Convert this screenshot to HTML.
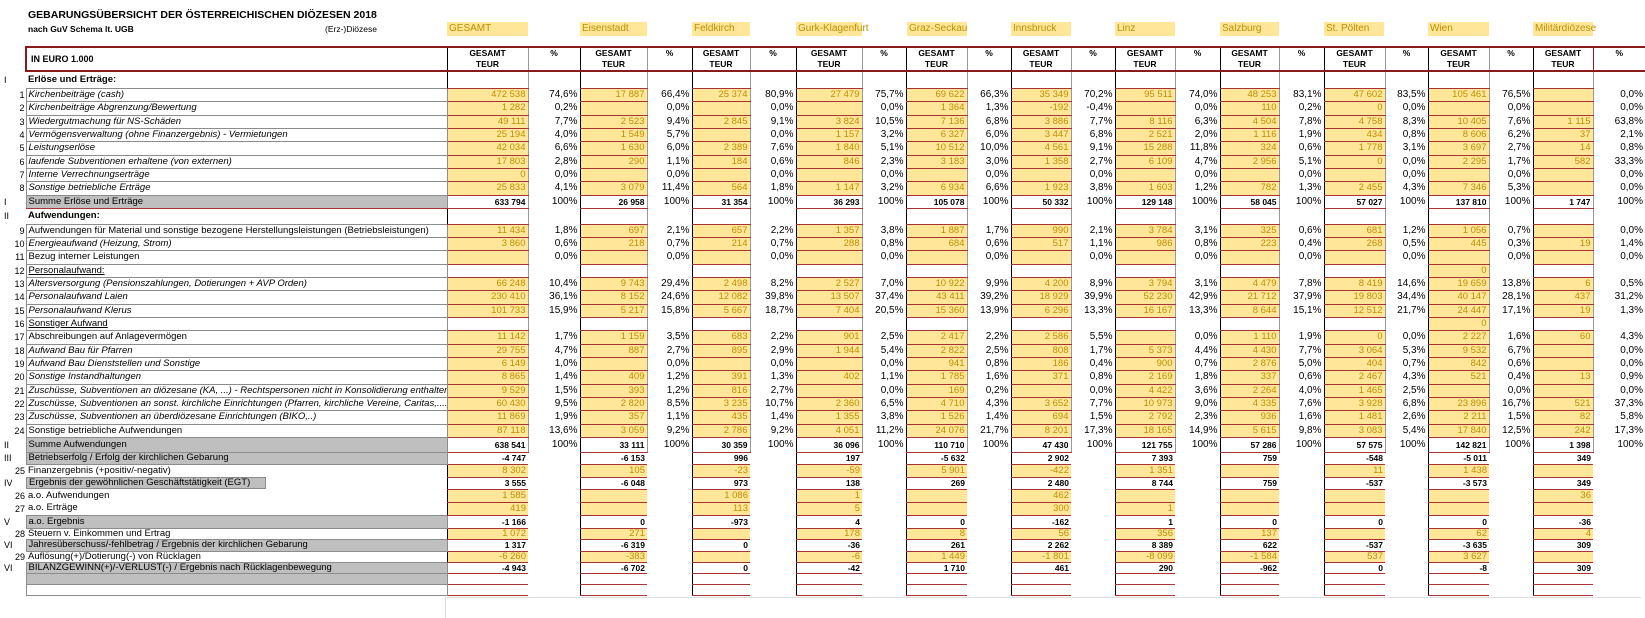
<!DOCTYPE html>
<html><head><meta charset="utf-8">
<style>
body{margin:0;width:1645px;height:615px;position:relative;background:#fff;font-family:"Liberation Sans",sans-serif;overflow:hidden;color:#000}
.t{position:absolute;white-space:nowrap}
.dl{position:absolute;top:22px;height:14px;line-height:14px;background:#FFE699;color:#BF8F00;font-size:10px;padding-left:2px;box-sizing:border-box;white-space:nowrap;overflow:visible}
table{position:absolute;left:0;top:46px;border-collapse:collapse;table-layout:fixed;width:1645px}
td{padding:0 2px;font-size:9.5px;white-space:nowrap;overflow:hidden;line-height:10px}
td.rn{padding-left:4px;font-size:9px}
td.n{text-align:right;font-size:9px;padding-right:1px}
td.l{border:1px solid #8c8c8c;font-size:9.5px}
td.i{font-style:italic}
td.b{font-weight:bold;border:none}
td.u{text-decoration:underline}
td.g{background:#BFBFBF}
td.v{background:#FFE699;color:#BF8F00;text-align:right;border-left:1px solid #000;border-bottom:1px solid #A93232;border-top:1px solid #A93232}
td.w{background:#fff;border-left:1px solid #000;border-bottom:1px solid #A93232}
td.s{background:#fff;text-align:right;font-weight:bold;font-size:8.5px;border-left:1px solid #000;border-bottom:1px solid #A93232;border-top:1px solid #A93232}
td.p{text-align:right;font-size:10px;border-left:1px solid #999}
td.x{border-left:1px solid #999}
tr.h td{border-top:2px solid #8B1A1A;border-bottom:2px solid #8B1A1A;font-weight:bold;font-size:8.5px;text-align:center;line-height:11px}
tr.h td.hl{text-align:left;border-left:2px solid #8B1A1A;font-size:9px;padding-left:4px}
tr.h td.hv{border-left:1px solid #000}
tr.h td.hp{border-left:1px solid #999;vertical-align:top}
tr.h td.e{border:none}
</style></head><body>
<div class="t" style="left:28px;top:9px;font-size:10.5px;font-weight:bold">GEBARUNGSÜBERSICHT DER ÖSTERREICHISCHEN DIÖZESEN 2018</div>
<div class="t" style="left:28px;top:24px;font-size:8.5px;font-weight:bold">nach GuV Schema lt. UGB</div>
<div class="t" style="left:325px;top:24px;font-size:8.5px">(Erz-)Diözese</div>
<div class="dl" style="left:447px;width:81px">GESAMT</div>
<div class="dl" style="left:580px;width:67px">Eisenstadt</div>
<div class="dl" style="left:692px;width:58px">Feldkirch</div>
<div class="dl" style="left:796px;width:66px">Gurk-Klagenfurt</div>
<div class="dl" style="left:907px;width:60px">Graz-Seckau</div>
<div class="dl" style="left:1011px;width:60px">Innsbruck</div>
<div class="dl" style="left:1115px;width:60px">Linz</div>
<div class="dl" style="left:1220px;width:59px">Salzburg</div>
<div class="dl" style="left:1324px;width:60px">St. Pölten</div>
<div class="dl" style="left:1428px;width:61px">Wien</div>
<div class="dl" style="left:1533px;width:60px">Militärdiözese</div>
<div style="position:absolute;left:445px;top:597px;width:1195px;height:20px;border-left:1px solid #ddd;border-top:1px solid #ddd"></div>
<table>
<colgroup><col style="width:12px"><col style="width:14px"><col style="width:421px">
<col style="width:81px"><col style="width:52px"><col style="width:67px"><col style="width:45px"><col style="width:58px"><col style="width:46px"><col style="width:66px"><col style="width:44px"><col style="width:61px"><col style="width:44px"><col style="width:60px"><col style="width:44px"><col style="width:60px"><col style="width:45px"><col style="width:59px"><col style="width:45px"><col style="width:61px"><col style="width:43px"><col style="width:61px"><col style="width:44px"><col style="width:60px"><col style="width:52px"></colgroup>
<tr class="h" style="height:24px"><td class="e"></td><td class="e"></td><td class="hl">IN EURO 1.000</td>
<td class="hv">GESAMT<br>TEUR</td><td class="hp">%</td><td class="hv">GESAMT<br>TEUR</td><td class="hp">%</td><td class="hv">GESAMT<br>TEUR</td><td class="hp">%</td><td class="hv">GESAMT<br>TEUR</td><td class="hp">%</td><td class="hv">GESAMT<br>TEUR</td><td class="hp">%</td><td class="hv">GESAMT<br>TEUR</td><td class="hp">%</td><td class="hv">GESAMT<br>TEUR</td><td class="hp">%</td><td class="hv">GESAMT<br>TEUR</td><td class="hp">%</td><td class="hv">GESAMT<br>TEUR</td><td class="hp">%</td><td class="hv">GESAMT<br>TEUR</td><td class="hp">%</td><td class="hv" style="border-right:1px solid #8B1A1A">GESAMT<br>TEUR</td><td class="hp">%</td></tr>
<tr style="height:17px"><td class="rn">I</td><td></td><td class="b">Erlöse und Erträge:</td><td class="w"></td><td class="x"></td><td class="w"></td><td class="x"></td><td class="w"></td><td class="x"></td><td class="w"></td><td class="x"></td><td class="w"></td><td class="x"></td><td class="w"></td><td class="x"></td><td class="w"></td><td class="x"></td><td class="w"></td><td class="x"></td><td class="w"></td><td class="x"></td><td class="w"></td><td class="x"></td><td class="w"></td><td class="x"></td></tr>
<tr style="height:13px"><td></td><td class="n">1</td><td class="l i">Kirchenbeiträge (cash)</td><td class="v">472 538</td><td class="p">74,6%</td><td class="v">17 887</td><td class="p">66,4%</td><td class="v">25 374</td><td class="p">80,9%</td><td class="v">27 479</td><td class="p">75,7%</td><td class="v">69 622</td><td class="p">66,3%</td><td class="v">35 349</td><td class="p">70,2%</td><td class="v">95 511</td><td class="p">74,0%</td><td class="v">48 253</td><td class="p">83,1%</td><td class="v">47 602</td><td class="p">83,5%</td><td class="v">105 461</td><td class="p">76,5%</td><td class="v"></td><td class="p">0,0%</td></tr>
<tr style="height:14px"><td></td><td class="n">2</td><td class="l i">Kirchenbeiträge Abgrenzung/Bewertung</td><td class="v">1 282</td><td class="p">0,2%</td><td class="v"></td><td class="p">0,0%</td><td class="v"></td><td class="p">0,0%</td><td class="v"></td><td class="p">0,0%</td><td class="v">1 364</td><td class="p">1,3%</td><td class="v">-192</td><td class="p">-0,4%</td><td class="v"></td><td class="p">0,0%</td><td class="v">110</td><td class="p">0,2%</td><td class="v">0</td><td class="p">0,0%</td><td class="v"></td><td class="p">0,0%</td><td class="v"></td><td class="p">0,0%</td></tr>
<tr style="height:13px"><td></td><td class="n">3</td><td class="l i">Wiedergutmachung für NS-Schäden</td><td class="v">49 111</td><td class="p">7,7%</td><td class="v">2 523</td><td class="p">9,4%</td><td class="v">2 845</td><td class="p">9,1%</td><td class="v">3 824</td><td class="p">10,5%</td><td class="v">7 136</td><td class="p">6,8%</td><td class="v">3 886</td><td class="p">7,7%</td><td class="v">8 116</td><td class="p">6,3%</td><td class="v">4 504</td><td class="p">7,8%</td><td class="v">4 758</td><td class="p">8,3%</td><td class="v">10 405</td><td class="p">7,6%</td><td class="v">1 115</td><td class="p">63,8%</td></tr>
<tr style="height:13px"><td></td><td class="n">4</td><td class="l i">Vermögensverwaltung (ohne Finanzergebnis) - Vermietungen</td><td class="v">25 194</td><td class="p">4,0%</td><td class="v">1 549</td><td class="p">5,7%</td><td class="v"></td><td class="p">0,0%</td><td class="v">1 157</td><td class="p">3,2%</td><td class="v">6 327</td><td class="p">6,0%</td><td class="v">3 447</td><td class="p">6,8%</td><td class="v">2 521</td><td class="p">2,0%</td><td class="v">1 116</td><td class="p">1,9%</td><td class="v">434</td><td class="p">0,8%</td><td class="v">8 606</td><td class="p">6,2%</td><td class="v">37</td><td class="p">2,1%</td></tr>
<tr style="height:14px"><td></td><td class="n">5</td><td class="l i">Leistungserlöse</td><td class="v">42 034</td><td class="p">6,6%</td><td class="v">1 630</td><td class="p">6,0%</td><td class="v">2 389</td><td class="p">7,6%</td><td class="v">1 840</td><td class="p">5,1%</td><td class="v">10 512</td><td class="p">10,0%</td><td class="v">4 561</td><td class="p">9,1%</td><td class="v">15 288</td><td class="p">11,8%</td><td class="v">324</td><td class="p">0,6%</td><td class="v">1 778</td><td class="p">3,1%</td><td class="v">3 697</td><td class="p">2,7%</td><td class="v">14</td><td class="p">0,8%</td></tr>
<tr style="height:13px"><td></td><td class="n">6</td><td class="l i">laufende Subventionen erhaltene (von externen)</td><td class="v">17 803</td><td class="p">2,8%</td><td class="v">290</td><td class="p">1,1%</td><td class="v">184</td><td class="p">0,6%</td><td class="v">846</td><td class="p">2,3%</td><td class="v">3 183</td><td class="p">3,0%</td><td class="v">1 358</td><td class="p">2,7%</td><td class="v">6 109</td><td class="p">4,7%</td><td class="v">2 956</td><td class="p">5,1%</td><td class="v">0</td><td class="p">0,0%</td><td class="v">2 295</td><td class="p">1,7%</td><td class="v">582</td><td class="p">33,3%</td></tr>
<tr style="height:13px"><td></td><td class="n">7</td><td class="l i">Interne Verrechnungserträge</td><td class="v">0</td><td class="p">0,0%</td><td class="v"></td><td class="p">0,0%</td><td class="v"></td><td class="p">0,0%</td><td class="v"></td><td class="p">0,0%</td><td class="v"></td><td class="p">0,0%</td><td class="v"></td><td class="p">0,0%</td><td class="v"></td><td class="p">0,0%</td><td class="v"></td><td class="p">0,0%</td><td class="v"></td><td class="p">0,0%</td><td class="v"></td><td class="p">0,0%</td><td class="v"></td><td class="p">0,0%</td></tr>
<tr style="height:14px"><td></td><td class="n">8</td><td class="l i">Sonstige betriebliche Erträge</td><td class="v">25 833</td><td class="p">4,1%</td><td class="v">3 079</td><td class="p">11,4%</td><td class="v">564</td><td class="p">1,8%</td><td class="v">1 147</td><td class="p">3,2%</td><td class="v">6 934</td><td class="p">6,6%</td><td class="v">1 923</td><td class="p">3,8%</td><td class="v">1 603</td><td class="p">1,2%</td><td class="v">782</td><td class="p">1,3%</td><td class="v">2 455</td><td class="p">4,3%</td><td class="v">7 346</td><td class="p">5,3%</td><td class="v"></td><td class="p">0,0%</td></tr>
<tr style="height:13px"><td class="rn">I</td><td></td><td class="l g" style="border-bottom:1px solid #A93232">Summe Erlöse und Erträge</td><td class="s">633 794</td><td class="p">100%</td><td class="s">26 958</td><td class="p">100%</td><td class="s">31 354</td><td class="p">100%</td><td class="s">36 293</td><td class="p">100%</td><td class="s">105 078</td><td class="p">100%</td><td class="s">50 332</td><td class="p">100%</td><td class="s">129 148</td><td class="p">100%</td><td class="s">58 045</td><td class="p">100%</td><td class="s">57 027</td><td class="p">100%</td><td class="s">137 810</td><td class="p">100%</td><td class="s">1 747</td><td class="p">100%</td></tr>
<tr style="height:16px"><td class="rn">II</td><td></td><td class="b">Aufwendungen:</td><td class="w"></td><td class="x"></td><td class="w"></td><td class="x"></td><td class="w"></td><td class="x"></td><td class="w"></td><td class="x"></td><td class="w"></td><td class="x"></td><td class="w"></td><td class="x"></td><td class="w"></td><td class="x"></td><td class="w"></td><td class="x"></td><td class="w"></td><td class="x"></td><td class="w"></td><td class="x"></td><td class="w"></td><td class="x"></td></tr>
<tr style="height:13px"><td></td><td class="n">9</td><td class="l">Aufwendungen für Material und sonstige bezogene Herstellungsleistungen (Betriebsleistungen)</td><td class="v">11 434</td><td class="p">1,8%</td><td class="v">697</td><td class="p">2,1%</td><td class="v">657</td><td class="p">2,2%</td><td class="v">1 357</td><td class="p">3,8%</td><td class="v">1 887</td><td class="p">1,7%</td><td class="v">990</td><td class="p">2,1%</td><td class="v">3 784</td><td class="p">3,1%</td><td class="v">325</td><td class="p">0,6%</td><td class="v">681</td><td class="p">1,2%</td><td class="v">1 056</td><td class="p">0,7%</td><td class="v"></td><td class="p">0,0%</td></tr>
<tr style="height:13px"><td></td><td class="n">10</td><td class="l i">Energieaufwand (Heizung, Strom)</td><td class="v">3 860</td><td class="p">0,6%</td><td class="v">218</td><td class="p">0,7%</td><td class="v">214</td><td class="p">0,7%</td><td class="v">288</td><td class="p">0,8%</td><td class="v">684</td><td class="p">0,6%</td><td class="v">517</td><td class="p">1,1%</td><td class="v">986</td><td class="p">0,8%</td><td class="v">223</td><td class="p">0,4%</td><td class="v">268</td><td class="p">0,5%</td><td class="v">445</td><td class="p">0,3%</td><td class="v">19</td><td class="p">1,4%</td></tr>
<tr style="height:14px"><td></td><td class="n">11</td><td class="l">Bezug interner Leistungen</td><td class="v"></td><td class="p">0,0%</td><td class="v"></td><td class="p">0,0%</td><td class="v"></td><td class="p">0,0%</td><td class="v"></td><td class="p">0,0%</td><td class="v"></td><td class="p">0,0%</td><td class="v"></td><td class="p">0,0%</td><td class="v"></td><td class="p">0,0%</td><td class="v"></td><td class="p">0,0%</td><td class="v"></td><td class="p">0,0%</td><td class="v"></td><td class="p">0,0%</td><td class="v"></td><td class="p">0,0%</td></tr>
<tr style="height:13px"><td></td><td class="n">12</td><td class="l u">Personalaufwand:</td><td class="w"></td><td class="x"></td><td class="w"></td><td class="x"></td><td class="w"></td><td class="x"></td><td class="w"></td><td class="x"></td><td class="w"></td><td class="x"></td><td class="w"></td><td class="x"></td><td class="w"></td><td class="x"></td><td class="w"></td><td class="x"></td><td class="w"></td><td class="x"></td><td class="v">0</td><td class="x"></td><td class="w"></td><td class="x"></td></tr>
<tr style="height:13px"><td></td><td class="n">13</td><td class="l i">Altersversorgung (Pensionszahlungen, Dotierungen + AVP Orden)</td><td class="v">66 248</td><td class="p">10,4%</td><td class="v">9 743</td><td class="p">29,4%</td><td class="v">2 498</td><td class="p">8,2%</td><td class="v">2 527</td><td class="p">7,0%</td><td class="v">10 922</td><td class="p">9,9%</td><td class="v">4 200</td><td class="p">8,9%</td><td class="v">3 794</td><td class="p">3,1%</td><td class="v">4 479</td><td class="p">7,8%</td><td class="v">8 419</td><td class="p">14,6%</td><td class="v">19 659</td><td class="p">13,8%</td><td class="v">6</td><td class="p">0,5%</td></tr>
<tr style="height:14px"><td></td><td class="n">14</td><td class="l i">Personalaufwand Laien</td><td class="v">230 410</td><td class="p">36,1%</td><td class="v">8 152</td><td class="p">24,6%</td><td class="v">12 082</td><td class="p">39,8%</td><td class="v">13 507</td><td class="p">37,4%</td><td class="v">43 411</td><td class="p">39,2%</td><td class="v">18 929</td><td class="p">39,9%</td><td class="v">52 230</td><td class="p">42,9%</td><td class="v">21 712</td><td class="p">37,9%</td><td class="v">19 803</td><td class="p">34,4%</td><td class="v">40 147</td><td class="p">28,1%</td><td class="v">437</td><td class="p">31,2%</td></tr>
<tr style="height:13px"><td></td><td class="n">15</td><td class="l i">Personalaufwand Klerus</td><td class="v">101 733</td><td class="p">15,9%</td><td class="v">5 217</td><td class="p">15,8%</td><td class="v">5 667</td><td class="p">18,7%</td><td class="v">7 404</td><td class="p">20,5%</td><td class="v">15 360</td><td class="p">13,9%</td><td class="v">6 296</td><td class="p">13,3%</td><td class="v">16 167</td><td class="p">13,3%</td><td class="v">8 644</td><td class="p">15,1%</td><td class="v">12 512</td><td class="p">21,7%</td><td class="v">24 447</td><td class="p">17,1%</td><td class="v">19</td><td class="p">1,3%</td></tr>
<tr style="height:13px"><td></td><td class="n">16</td><td class="l u">Sonstiger Aufwand</td><td class="w"></td><td class="x"></td><td class="w"></td><td class="x"></td><td class="w"></td><td class="x"></td><td class="w"></td><td class="x"></td><td class="w"></td><td class="x"></td><td class="w"></td><td class="x"></td><td class="w"></td><td class="x"></td><td class="w"></td><td class="x"></td><td class="w"></td><td class="x"></td><td class="v">0</td><td class="x"></td><td class="w"></td><td class="x"></td></tr>
<tr style="height:14px"><td></td><td class="n">17</td><td class="l">Abschreibungen auf Anlagevermögen</td><td class="v">11 142</td><td class="p">1,7%</td><td class="v">1 159</td><td class="p">3,5%</td><td class="v">683</td><td class="p">2,2%</td><td class="v">901</td><td class="p">2,5%</td><td class="v">2 417</td><td class="p">2,2%</td><td class="v">2 586</td><td class="p">5,5%</td><td class="v"></td><td class="p">0,0%</td><td class="v">1 110</td><td class="p">1,9%</td><td class="v">0</td><td class="p">0,0%</td><td class="v">2 227</td><td class="p">1,6%</td><td class="v">60</td><td class="p">4,3%</td></tr>
<tr style="height:13px"><td></td><td class="n">18</td><td class="l i">Aufwand Bau für Pfarren</td><td class="v">29 755</td><td class="p">4,7%</td><td class="v">887</td><td class="p">2,7%</td><td class="v">895</td><td class="p">2,9%</td><td class="v">1 944</td><td class="p">5,4%</td><td class="v">2 822</td><td class="p">2,5%</td><td class="v">808</td><td class="p">1,7%</td><td class="v">5 373</td><td class="p">4,4%</td><td class="v">4 430</td><td class="p">7,7%</td><td class="v">3 064</td><td class="p">5,3%</td><td class="v">9 532</td><td class="p">6,7%</td><td class="v"></td><td class="p">0,0%</td></tr>
<tr style="height:13px"><td></td><td class="n">19</td><td class="l i">Aufwand Bau Dienststellen und Sonstige</td><td class="v">6 149</td><td class="p">1,0%</td><td class="v"></td><td class="p">0,0%</td><td class="v"></td><td class="p">0,0%</td><td class="v"></td><td class="p">0,0%</td><td class="v">941</td><td class="p">0,8%</td><td class="v">186</td><td class="p">0,4%</td><td class="v">900</td><td class="p">0,7%</td><td class="v">2 876</td><td class="p">5,0%</td><td class="v">404</td><td class="p">0,7%</td><td class="v">842</td><td class="p">0,6%</td><td class="v"></td><td class="p">0,0%</td></tr>
<tr style="height:14px"><td></td><td class="n">20</td><td class="l i">Sonstige Instandhaltungen</td><td class="v">8 865</td><td class="p">1,4%</td><td class="v">409</td><td class="p">1,2%</td><td class="v">391</td><td class="p">1,3%</td><td class="v">402</td><td class="p">1,1%</td><td class="v">1 785</td><td class="p">1,6%</td><td class="v">371</td><td class="p">0,8%</td><td class="v">2 169</td><td class="p">1,8%</td><td class="v">337</td><td class="p">0,6%</td><td class="v">2 467</td><td class="p">4,3%</td><td class="v">521</td><td class="p">0,4%</td><td class="v">13</td><td class="p">0,9%</td></tr>
<tr style="height:13px"><td></td><td class="n">21</td><td class="l i">Zuschüsse, Subventionen an diözesane (KA, ...) - Rechtspersonen nicht in Konsolidierung enthalten</td><td class="v">9 529</td><td class="p">1,5%</td><td class="v">393</td><td class="p">1,2%</td><td class="v">816</td><td class="p">2,7%</td><td class="v"></td><td class="p">0,0%</td><td class="v">169</td><td class="p">0,2%</td><td class="v"></td><td class="p">0,0%</td><td class="v">4 422</td><td class="p">3,6%</td><td class="v">2 264</td><td class="p">4,0%</td><td class="v">1 465</td><td class="p">2,5%</td><td class="v"></td><td class="p">0,0%</td><td class="v"></td><td class="p">0,0%</td></tr>
<tr style="height:13px"><td></td><td class="n">22</td><td class="l i">Zuschüsse, Subventionen an sonst. kirchliche Einrichtungen (Pfarren, kirchliche Vereine, Caritas,....)</td><td class="v">60 430</td><td class="p">9,5%</td><td class="v">2 820</td><td class="p">8,5%</td><td class="v">3 235</td><td class="p">10,7%</td><td class="v">2 360</td><td class="p">6,5%</td><td class="v">4 710</td><td class="p">4,3%</td><td class="v">3 652</td><td class="p">7,7%</td><td class="v">10 973</td><td class="p">9,0%</td><td class="v">4 335</td><td class="p">7,6%</td><td class="v">3 928</td><td class="p">6,8%</td><td class="v">23 896</td><td class="p">16,7%</td><td class="v">521</td><td class="p">37,3%</td></tr>
<tr style="height:14px"><td></td><td class="n">23</td><td class="l i">Zuschüsse, Subventionen an überdiözesane Einrichtungen (BIKO,..)</td><td class="v">11 869</td><td class="p">1,9%</td><td class="v">357</td><td class="p">1,1%</td><td class="v">435</td><td class="p">1,4%</td><td class="v">1 355</td><td class="p">3,8%</td><td class="v">1 526</td><td class="p">1,4%</td><td class="v">694</td><td class="p">1,5%</td><td class="v">2 792</td><td class="p">2,3%</td><td class="v">936</td><td class="p">1,6%</td><td class="v">1 481</td><td class="p">2,6%</td><td class="v">2 211</td><td class="p">1,5%</td><td class="v">82</td><td class="p">5,8%</td></tr>
<tr style="height:13px"><td></td><td class="n">24</td><td class="l">Sonstige betriebliche Aufwendungen</td><td class="v">87 118</td><td class="p">13,6%</td><td class="v">3 059</td><td class="p">9,2%</td><td class="v">2 786</td><td class="p">9,2%</td><td class="v">4 051</td><td class="p">11,2%</td><td class="v">24 076</td><td class="p">21,7%</td><td class="v">8 201</td><td class="p">17,3%</td><td class="v">18 165</td><td class="p">14,9%</td><td class="v">5 615</td><td class="p">9,8%</td><td class="v">3 083</td><td class="p">5,4%</td><td class="v">17 840</td><td class="p">12,5%</td><td class="v">242</td><td class="p">17,3%</td></tr>
<tr style="height:15px"><td class="rn">II</td><td></td><td class="l g">Summe Aufwendungen</td><td class="s">638 541</td><td class="p">100%</td><td class="s">33 111</td><td class="p">100%</td><td class="s">30 359</td><td class="p">100%</td><td class="s">36 096</td><td class="p">100%</td><td class="s">110 710</td><td class="p">100%</td><td class="s">47 430</td><td class="p">100%</td><td class="s">121 755</td><td class="p">100%</td><td class="s">57 286</td><td class="p">100%</td><td class="s">57 575</td><td class="p">100%</td><td class="s">142 821</td><td class="p">100%</td><td class="s">1 398</td><td class="p">100%</td></tr>
<tr style="height:12px"><td class="rn">III</td><td></td><td class="l g">Betriebserfolg / Erfolg der kirchlichen Gebarung</td><td class="s">-4 747</td><td></td><td class="s">-6 153</td><td></td><td class="s">996</td><td></td><td class="s">197</td><td></td><td class="s">-5 632</td><td></td><td class="s">2 902</td><td></td><td class="s">7 393</td><td></td><td class="s">759</td><td></td><td class="s">-548</td><td></td><td class="s">-5 011</td><td></td><td class="s">349</td><td></td></tr>
<tr style="height:13px"><td></td><td class="n">25</td><td style="font-size:9.5px">Finanzergebnis (+positiv/-negativ)</td><td class="v">8 302</td><td></td><td class="v">105</td><td></td><td class="v">-23</td><td></td><td class="v">-59</td><td></td><td class="v">5 901</td><td></td><td class="v">-422</td><td></td><td class="v">1 351</td><td></td><td class="v"></td><td></td><td class="v">11</td><td></td><td class="v">1 438</td><td></td><td class="v"></td><td></td></tr>
<tr style="height:12px"><td class="rn">IV</td><td></td><td style="padding:0"><div style="background:#BFBFBF;width:236px;border:1px solid #8c8c8c;height:10px;line-height:10px;padding-left:2px;font-size:9.5px">Ergebnis der gewöhnlichen Geschäftstätigkeit (EGT)</div></td><td class="s">3 555</td><td></td><td class="s">-6 048</td><td></td><td class="s">973</td><td></td><td class="s">138</td><td></td><td class="s">269</td><td></td><td class="s">2 480</td><td></td><td class="s">8 744</td><td></td><td class="s">759</td><td></td><td class="s">-537</td><td></td><td class="s">-3 573</td><td></td><td class="s">349</td><td></td></tr>
<tr style="height:13px"><td></td><td class="n">26</td><td>a.o. Aufwendungen</td><td class="v">1 585</td><td></td><td class="v"></td><td></td><td class="v">1 086</td><td></td><td class="v">1</td><td></td><td class="v"></td><td></td><td class="v">462</td><td></td><td class="v"></td><td></td><td class="v"></td><td></td><td class="v"></td><td></td><td class="v"></td><td></td><td class="v">36</td><td></td></tr>
<tr style="height:13px"><td></td><td class="n">27</td><td>a.o. Erträge</td><td class="v">419</td><td></td><td class="v"></td><td></td><td class="v">113</td><td></td><td class="v">5</td><td></td><td class="v"></td><td></td><td class="v">300</td><td></td><td class="v">1</td><td></td><td class="v"></td><td></td><td class="v"></td><td></td><td class="v"></td><td></td><td class="v"></td><td></td></tr>
<tr style="height:13px"><td class="rn">V</td><td></td><td class="l g">a.o. Ergebnis</td><td class="s">-1 166</td><td></td><td class="s">0</td><td></td><td class="s">-973</td><td></td><td class="s">4</td><td></td><td class="s">0</td><td></td><td class="s">-162</td><td></td><td class="s">1</td><td></td><td class="s">0</td><td></td><td class="s">0</td><td></td><td class="s">0</td><td></td><td class="s">-36</td><td></td></tr>
<tr style="height:11px"><td></td><td class="n">28</td><td>Steuern v. Einkommen und Ertrag</td><td class="v">1 072</td><td></td><td class="v">271</td><td></td><td class="v"></td><td></td><td class="v">178</td><td></td><td class="v">8</td><td></td><td class="v">56</td><td></td><td class="v">356</td><td></td><td class="v">137</td><td></td><td class="v"></td><td></td><td class="v">62</td><td></td><td class="v">4</td><td></td></tr>
<tr style="height:12px"><td class="rn">VI</td><td></td><td class="l g">Jahresüberschuss/-fehlbetrag / Ergebnis der kirchlichen Gebarung</td><td class="s">1 317</td><td></td><td class="s">-6 319</td><td></td><td class="s">0</td><td></td><td class="s">-36</td><td></td><td class="s">261</td><td></td><td class="s">2 262</td><td></td><td class="s">8 389</td><td></td><td class="s">622</td><td></td><td class="s">-537</td><td></td><td class="s">-3 635</td><td></td><td class="s">309</td><td></td></tr>
<tr style="height:11px"><td></td><td class="n">29</td><td>Auflösung(+)/Dotierung(-) von Rücklagen</td><td class="v">-6 260</td><td></td><td class="v">-383</td><td></td><td class="v"></td><td></td><td class="v">-6</td><td></td><td class="v">1 449</td><td></td><td class="v">-1 801</td><td></td><td class="v">-8 099</td><td></td><td class="v">-1 584</td><td></td><td class="v">537</td><td></td><td class="v">3 627</td><td></td><td class="v"></td><td></td></tr>
<tr style="height:11px"><td class="rn">VII</td><td></td><td class="l g">BILANZGEWINN(+)/-VERLUST(-) / Ergebnis nach Rücklagenbewegung</td><td class="s">-4 943</td><td></td><td class="s">-6 702</td><td></td><td class="s">0</td><td></td><td class="s">-42</td><td></td><td class="s">1 710</td><td></td><td class="s">461</td><td></td><td class="s">290</td><td></td><td class="s">-962</td><td></td><td class="s">0</td><td></td><td class="s">-8</td><td></td><td class="s">309</td><td></td></tr>
<tr style="height:11px"><td></td><td></td><td class="l g"></td><td class="s"></td><td></td><td class="s"></td><td></td><td class="s"></td><td></td><td class="s"></td><td></td><td class="s"></td><td></td><td class="s"></td><td></td><td class="s"></td><td></td><td class="s"></td><td></td><td class="s"></td><td></td><td class="s"></td><td></td><td class="s"></td><td></td></tr>
<tr style="height:11px"><td></td><td></td><td class="l"></td><td class="s"></td><td></td><td class="s"></td><td></td><td class="s"></td><td></td><td class="s"></td><td></td><td class="s"></td><td></td><td class="s"></td><td></td><td class="s"></td><td></td><td class="s"></td><td></td><td class="s"></td><td></td><td class="s"></td><td></td><td class="s"></td><td></td></tr>
</table>
</body></html>
